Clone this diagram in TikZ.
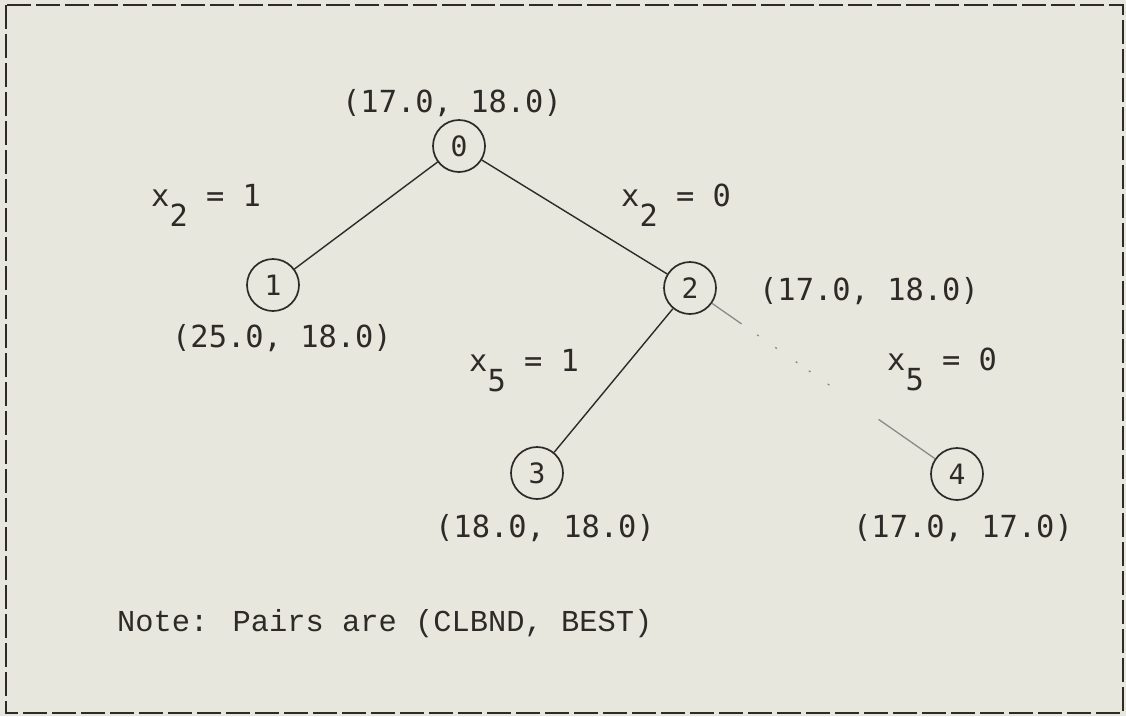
\documentclass[tikz,border=0pt]{standalone}
\usepackage{fontspec}
\newfontfamily\dmono{DejaVu Sans Mono}
\newfontfamily\lmono{Liberation Mono}
\definecolor{paper}{RGB}{231,231,221}
\definecolor{ink}{RGB}{45,42,40}
\begin{document}
\begin{tikzpicture}[x=1pt,y=-1pt,
  treenode/.style={draw=ink,circle,line width=1.7pt,minimum size=52pt,inner sep=0pt,
    font=\dmono\fontsize{28}{30}\selectfont,text=ink},
  pairlabel/.style={anchor=base,inner sep=0pt,font=\dmono\fontsize{30.4}{34}\selectfont,text=ink},
  branchlabel/.style={anchor=base west,inner sep=0pt,font=\dmono\fontsize{30.4}{34}\selectfont,text=ink},
  edge/.style={draw=ink,line width=1.4pt},
  faintedge/.style={draw=ink!55,line width=1.3pt,
    dash pattern=on 36pt off 19pt on 2pt off 20pt on 2pt off 23pt on 2pt off 14pt on 2pt off 21pt on 2pt off 60pt on 90pt}]
\useasboundingbox (0,0) rectangle (1126,716);
\fill[paper] (0,0) rectangle (1126,716);
\draw[ink,line width=2.6pt,dash pattern=on 24pt off 5pt] (6,5) rectangle (1123,713);

\node[treenode] (n0) at (459,146) {0};
\node[treenode] (n1) at (273,285) {1};
\node[treenode] (n2) at (690,288) {2};
\node[treenode] (n3) at (537,473) {3};
\node[treenode] (n4) at (957,474) {4};

\draw[edge] (n0) -- (n1);
\draw[edge] (n0) -- (n2);
\draw[edge] (n2) -- (n3);
\draw[faintedge] (n2) -- (n4);

\node[pairlabel] (p0) at (452,112) {(17.0, 18.0)};
\node[pairlabel] (p1) at (282,347) {(25.0, 18.0)};
\node[pairlabel] (p2) at (869,300) {(17.0, 18.0)};
\node[pairlabel] (p3) at (545,537) {(18.0, 18.0)};
\node[pairlabel] (p4) at (963,537) {(17.0, 17.0)};

\node[branchlabel] (b1) at (151,206) {x\raisebox{-20pt}{2} = 1};
\node[branchlabel] (b2) at (621,206) {x\raisebox{-20pt}{2} = 0};
\node[branchlabel] (b3) at (469,371) {x\raisebox{-20pt}{5} = 1};
\node[branchlabel] (b4) at (887,370) {x\raisebox{-20pt}{5} = 0};

\node[anchor=base west,inner sep=0pt,font=\lmono\fontsize{30.4}{34}\selectfont,text=ink] (note) at (117,631) {Note: Pairs are (CLBND, BEST)};
\end{tikzpicture}
\end{document}
